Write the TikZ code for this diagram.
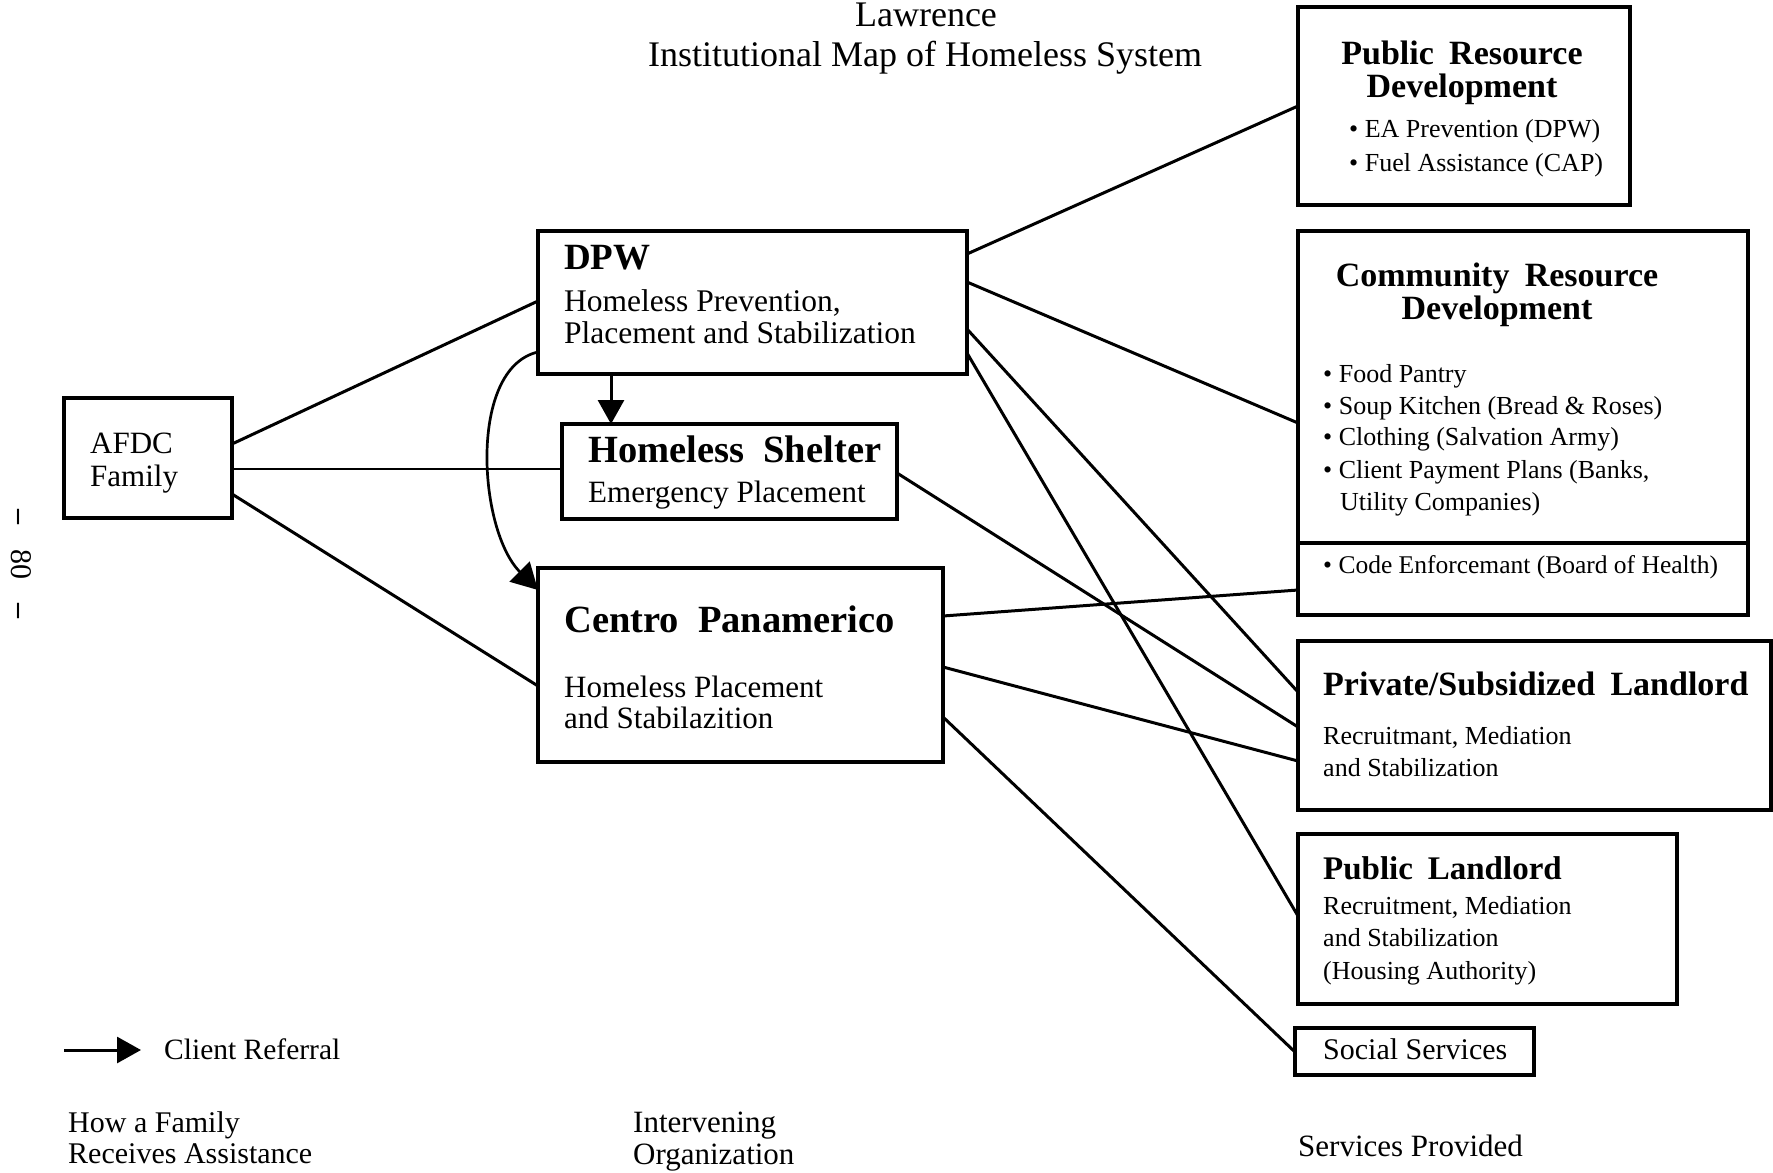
\documentclass[tikz,border=0pt]{standalone}
\usepackage{fontspec}
\setmainfont{Liberation Serif}
\usetikzlibrary{arrows.meta}
\begin{document}
\begin{tikzpicture}[x=1pt,y=-1pt,
  box/.style={draw, line width=3.2pt, inner sep=0pt, outer sep=0pt, anchor=north west},
  link/.style={line width=3pt},
  thin link/.style={line width=2.7pt},
  head/.style={-{Triangle[length=24pt,width=26pt]}},
  txt/.style={inner sep=0pt, anchor=base west},
  ctr/.style={inner sep=0pt, anchor=base},
  ttl/.style={font=\fontsize{36}{40}\selectfont},
  hd/.style={font=\bfseries\fontsize{#1}{#1}\selectfont},
  bd/.style={font=\fontsize{#1}{#1}\selectfont},
]
\useasboundingbox (0,0) rectangle (1773,1173);

% title
\node[ctr, ttl] (t1) at (926,26) {Lawrence};
\node[ctr, ttl] (t2) at (925,66) {Institutional Map of Homeless System};

% page number
\node[inner sep=0pt, rotate=-90, bd=30] (pg) at (21,564) {\textbf{–}\hspace{0.8em}80\hspace{0.8em}\textbf{–}};

% boxes
\node[box, minimum width=332pt, minimum height=198pt] (pubres) at (1298,7) {};
\node[box, minimum width=429pt, minimum height=143pt] (dpw) at (538,231) {};
\node[box, minimum width=450pt, minimum height=384pt] (comm) at (1298,231) {};
\node[box, minimum width=168pt, minimum height=120pt] (afdc) at (64,398) {};
\node[box, minimum width=335pt, minimum height=95pt] (shelter) at (562,424) {};
\node[box, minimum width=405pt, minimum height=194pt] (centro) at (538,568) {};
\node[box, minimum width=473pt, minimum height=169pt] (priv) at (1298,641) {};
\node[box, minimum width=379pt, minimum height=170pt] (publ) at (1298,834) {};
\node[box, minimum width=239pt, minimum height=47pt] (social) at (1295,1028) {};
\draw[line width=3.2pt] (comm.west |- 0,543) -- (comm.east |- 0,543);

% Public Resource Development
\node[ctr, hd=34] (pr1) at (1462,64) {Public\hspace{0.45em}Resource};
\node[ctr, hd=34] (pr2) at (1462,97) {Development};
\node[txt, bd=26] (pr3) at (1349,137) {• EA Prevention (DPW)};
\node[txt, bd=26] (pr4) at (1349,171) {• Fuel Assistance (CAP)};

% DPW
\node[txt, hd=37] (d1) at (564,269) {DPW};
\node[txt, bd=31.5] (d2) at (564,311) {Homeless Prevention,};
\node[txt, bd=31.5] (d3) at (564,343) {Placement and Stabilization};

% Community Resource Development
\node[ctr, hd=34] (c1) at (1497,286) {Community\hspace{0.45em}Resource};
\node[ctr, hd=34] (c2) at (1497,319) {Development};
\node[txt, bd=26] (c3) at (1323,382) {• Food Pantry};
\node[txt, bd=26] (c4) at (1323,414) {• Soup Kitchen (Bread \& Roses)};
\node[txt, bd=26] (c5) at (1323,445) {• Clothing (Salvation Army)};
\node[txt, bd=26] (c6) at (1323,478) {• Client Payment Plans (Banks,};
\node[txt, bd=26] (c7) at (1340,510) {Utility Companies)};
\node[txt, bd=25.5] (c8) at (1323,573) {• Code Enforcemant (Board of Health)};

% AFDC Family
\node[txt, bd=31] (a1) at (90,453) {AFDC};
\node[txt, bd=31] (a2) at (90,486) {Family};

% Homeless Shelter
\node[txt, hd=38.5] (s1) at (588,462) {Homeless\hspace{0.5em}Shelter};
\node[txt, bd=31] (s2) at (588,502) {Emergency Placement};

% Centro Panamerico
\node[txt, hd=38.5] (p1) at (564,632) {Centro\hspace{0.5em}Panamerico};
\node[txt, bd=31] (p2) at (564,697) {Homeless Placement};
\node[txt, bd=31] (p3) at (564,728) {and Stabilazition};

% Private/Subsidized Landlord
\node[txt, hd=34] (l1) at (1323,695) {Private/Subsidized\hspace{0.45em}Landlord};
\node[txt, bd=26] (l2) at (1323,744) {Recruitmant, Mediation};
\node[txt, bd=26] (l3) at (1323,776) {and Stabilization};

% Public Landlord
\node[txt, hd=33] (u1) at (1323,879) {Public\hspace{0.45em}Landlord};
\node[txt, bd=26] (u2) at (1323,914) {Recruitment, Mediation};
\node[txt, bd=26] (u3) at (1323,946) {and Stabilization};
\node[txt, bd=26] (u4) at (1323,979) {(Housing Authority)};

% Social Services
\node[txt, bd=30] (ss) at (1323,1059) {Social Services};

% legend and column captions
\coordinate (lg0) at (64,1050);
\coordinate (lg1) at (141,1050);
\draw[link, head] (lg0) -- (lg1);
\node[txt, bd=29.5] (lgt) at (164,1059) {Client Referral};
\node[txt, bd=30] (h1) at (68,1132) {How a Family};
\node[txt, bd=30] (h2) at (68,1163) {Receives Assistance};
\node[txt, bd=31] (i1) at (633,1132) {Intervening};
\node[txt, bd=31] (i2) at (633,1164) {Organization};
\node[txt, bd=31] (sp) at (1298,1156) {Services Provided};

% links from the family
\draw[link] (afdc.east |- 0,444) -- (dpw.west |- 0,301);
\draw[thin link] (afdc.east |- 0,469) -- (shelter.west |- 0,469);
\draw[link] (afdc.east |- 0,494) -- (centro.west |- 0,686);

% links from DPW
\draw[link] (dpw.east |- 0,254) -- (pubres.west |- 0,106);
\draw[link] (dpw.east |- 0,282) -- (comm.west |- 0,423);
\draw[link] (dpw.east |- 0,329) -- (priv.west |- 0,692);
\draw[link] (dpw.east |- 0,353) -- (publ.west |- 0,916);

% links from the shelter and Centro Panamerico
\draw[link] (shelter.east |- 0,473) -- (priv.west |- 0,727);
\draw[link] (centro.east |- 0,616) -- (comm.west |- 0,590);
\draw[link] (centro.east |- 0,667) -- (priv.west |- 0,761);
\draw[link] (centro.east |- 0,717) -- (social.west |- 0,1052);

% client referrals
\draw[link, head] (dpw.south -| 611,0) -- (shelter.north -| 611,0);
\draw[thin link, -{Triangle[length=26pt,width=28pt]}] (dpw.west |- 0,352)
  .. controls (468,368) and (478,530) .. (centro.west |- 0,590);
\end{tikzpicture}
\end{document}
